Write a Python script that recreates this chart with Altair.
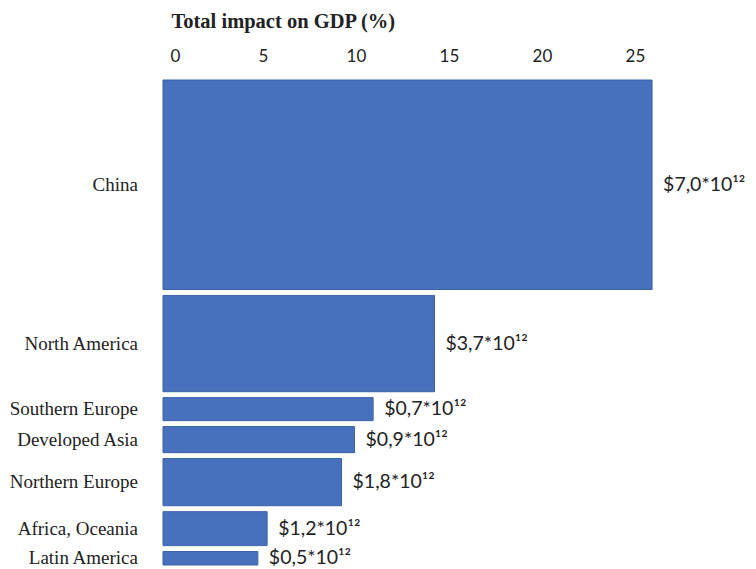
import altair as alt
import pandas as pd

regions = ["China", "North America", "Southern Europe", "Developed Asia",
           "Northern Europe", "Africa, Oceania", "Latin America"]
impact_pct = [26.3, 14.6, 11.3, 10.3, 9.6, 5.6, 5.1]
band_size = [7.46, 3.43, 0.82, 0.93, 1.68, 1.21, 0.48]
value_labels = ["$7,0*10¹²", "$3,7*10¹²", "$0,7*10¹²", "$0,9*10¹²",
                "$1,8*10¹²", "$1,2*10¹²", "$0,5*10¹²"]
tick_values = [0, 5, 10, 15, 20, 25]

gap = 0.21
rows = []
pos = 0.0
for r, v, s, lab in zip(regions, impact_pct, band_size, value_labels):
    rows.append({"region": r, "impact": v, "y0": pos, "y1": pos + s,
                 "ymid": pos + s / 2, "label": lab})
    pos += s + gap
total = pos - gap
df = pd.DataFrame(rows)

W, H = 490, 485
xs = alt.Scale(domain=[0, 26.35], nice=False, zero=True)
ys = alt.Scale(domain=[0, total], nice=False, reverse=True)

x_axis = alt.Axis(orient="top", values=tick_values, ticks=False, domain=False,
                  grid=False, title="Total impact on GDP (%)",
                  titleFont="Liberation Serif", titleFontSize=20.5,
                  titleFontWeight="bold", titleColor="#222",
                  titleAnchor="start", titleAlign="left", titleX=8,
                  titlePadding=16, labelFont="Lato", labelFontSize=17,
                  labelColor="#222", labelPadding=15, labelOffset=7)

base = alt.Chart(df)

bars = base.mark_rect(color="#4770bd", stroke="#3b62a8", strokeWidth=1).encode(
    x=alt.X("x0:Q", scale=xs, axis=x_axis),
    x2="impact:Q",
    y=alt.Y("y0:Q", scale=ys, axis=None),
    y2="y1:Q",
).transform_calculate(x0="0")

cat_text = base.mark_text(align="right", baseline="middle", font="Liberation Serif",
                          fontSize=19, color="#222").encode(
    x=alt.value(-25),
    y=alt.Y("ymid:Q", scale=ys, axis=None),
    text="region:N",
)

val_text = base.mark_text(align="left", baseline="middle", font="Lato",
                          fontSize=19.5, color="#222", dx=11).encode(
    x=alt.X("impact:Q", scale=xs, axis=x_axis),
    y=alt.Y("ymid:Q", scale=ys, axis=None),
    text="label:N",
)

chart = alt.layer(bars, cat_text, val_text).properties(
    width=W, height=H, background="white",
    padding={"left": 1, "top": 3, "right": 0, "bottom": 0}
).configure_view(stroke=None, strokeWidth=0)

chart.save("out.html", embed_options={"renderer": "svg", "actions": False})
